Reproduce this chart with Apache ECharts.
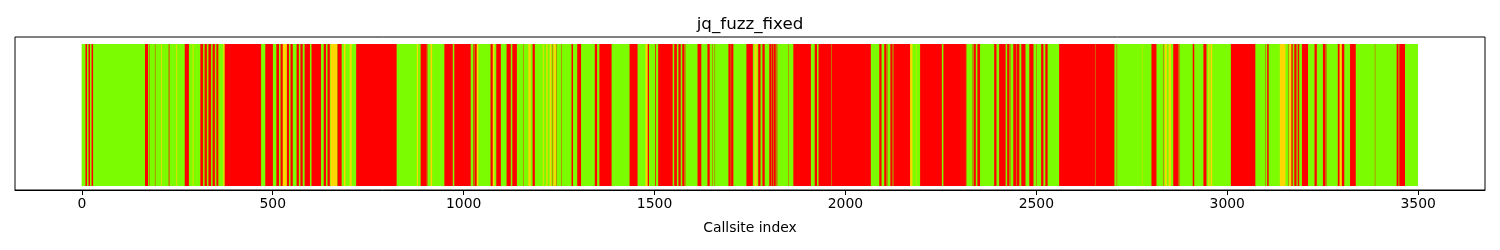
<!DOCTYPE html>
<html>
<head>
<meta charset="utf-8">
<script src="https://cdn.jsdelivr.net/npm/echarts@6/dist/echarts.min.js"></script>
<style>
html,body{margin:0;padding:0;background:#fff;}
#chart{width:1500px;height:250px;}
</style>
</head>
<body>
<div id="chart"></div>
<script>
// ---- data ----
const chartTitle = 'jq_fuzz_fixed';
const xAxisName = 'Callsite index';
const totalCallsites = 3500;
const tickValues = [0, 500, 1000, 1500, 2000, 2500, 3000, 3500];
// runs of callsites [firstIndex, lastIndex] (inclusive); everything else is green
const greenRuns = [[0, 3499]];
const redRuns = [
  [10,13],[18,21],[26,29],[166,173],[178,178],[192,192],[228,229],[270,280],
  [311,317],[322,327],[332,338],[343,348],[353,357],[374,469],[481,500],[510,516],[521,526],
  [537,542],[547,552],[563,568],[573,578],[584,597],[602,626],[634,639],[644,649],[670,680],
  [719,824],[888,903],[906,906],[950,971],[976,1018],[1026,1027],[1029,1034],[1071,1076],
  [1086,1097],[1113,1123],[1128,1139],[1157,1157],[1181,1186],[1232,1232],[1243,1243],[1257,1257],
  [1283,1286],[1298,1307],[1344,1349],[1356,1387],[1435,1455],[1482,1485],[1502,1503],[1510,1547],
  [1552,1558],[1563,1568],[1573,1578],[1581,1581],[1613,1622],[1639,1644],[1651,1651],[1658,1658],
  [1694,1699],[1701,1706],[1741,1757],[1772,1777],[1783,1788],[1801,1806],[1808,1810],[1812,1817],
  [1820,1821],[1851,1851],[1864,1909],[1920,1925],[1930,1962],[1964,2066],[2089,2094],[2102,2107],
  [2110,2110],[2118,2123],[2126,2169],[2196,2252],[2257,2315],[2317,2317],[2333,2333],[2336,2341],
  [2346,2352],[2390,2395],[2403,2419],[2424,2429],[2432,2432],[2440,2447],[2449,2455],[2461,2471],
  [2482,2492],[2500,2500],[2513,2518],[2524,2529],[2560,2653],[2655,2704],[2711,2711],[2802,2814],
  [2833,2833],[2859,2872],[2875,2875],[2910,2913],[2938,2945],[3010,3073],[3100,3100],[3105,3108],
  [3160,3160],[3168,3171],[3176,3180],[3182,3182],[3185,3188],[3196,3211],[3229,3234],[3251,3257],
  [3260,3260],[3290,3294],[3300,3306],[3322,3336],[3387,3387],[3444,3448],[3451,3465]
];
const yellowRuns = [
  [208,209],[248,249],[291,292],[371,373],[527,536],[652,668],[687,690],[702,706],[878,880],
  [914,917],[1035,1038],[1077,1080],[1170,1175],[1208,1209],[1217,1219],[1226,1229],[1236,1241],
  [1477,1481],[1762,1767],[1769,1769],[2170,2175],[2186,2186],[2777,2777],[2837,2841],[2847,2852],
  [2951,2953],[2957,2960],[3138,3152],[3163,3167],[3295,3299]
];

// ---- styles ----
const colors = { green: '#7CFC00', red: '#FF0000', yellow: '#FFD700' };
const FONT = 'DejaVu Sans';

function runSeries(name, runs, color) {
  return {
    type: 'custom',
    name: name,
    data: runs,
    encode: { x: [0, 1] },
    clip: false,
    silent: true,
    renderItem: function (params, api) {
      const s = api.value(0) - 0.5;
      const e = api.value(1) + 0.5;
      const p0 = api.coord([s, 0]);
      const p1 = api.coord([e, 1]);
      return {
        type: 'rect',
        shape: { x: p0[0], y: p1[1], width: p1[0] - p0[0], height: p0[1] - p1[1] },
        style: { fill: color }
      };
    }
  };
}

const chart = echarts.init(document.getElementById('chart'), null, { renderer: 'canvas' });
chart.setOption({
  animation: false,
  backgroundColor: '#fff',
  title: {
    text: chartTitle, left: 'center', top: 11,
    textStyle: { fontFamily: FONT, fontSize: 16.7, fontWeight: 'normal', color: '#000' }
  },
  grid: {
    left: 15, right: 15, top: 37, bottom: 60,
    show: true, borderColor: '#000', borderWidth: 1,
    outerBoundsMode: 'none', containLabel: false
  },
  xAxis: {
    type: 'value',
    min: -175, max: totalCallsites + 175,
    name: xAxisName, nameLocation: 'middle', nameGap: 31,
    nameTextStyle: { fontFamily: FONT, fontSize: 13.9, color: '#000', verticalAlign: 'top' },
    splitLine: { show: false },
    axisLine: { show: true, onZero: false, lineStyle: { color: '#000', width: 1 } },
    axisTick: { show: true, length: 5, lineStyle: { color: '#000' }, customValues: tickValues },
    axisLabel: {
      fontFamily: FONT, fontSize: 13.9, color: '#000', margin: 7,
      customValues: tickValues, showMinLabel: true, showMaxLabel: true,
      formatter: function (v) { return String(v); }
    }
  },
  yAxis: { type: 'value', min: -0.028, max: 1.049, show: false, splitLine: { show: false } },
  series: [
    runSeries('green', greenRuns, colors.green),
    runSeries('red', redRuns, colors.red),
    runSeries('yellow', yellowRuns, colors.yellow)
  ]
});
</script>
</body>
</html>
